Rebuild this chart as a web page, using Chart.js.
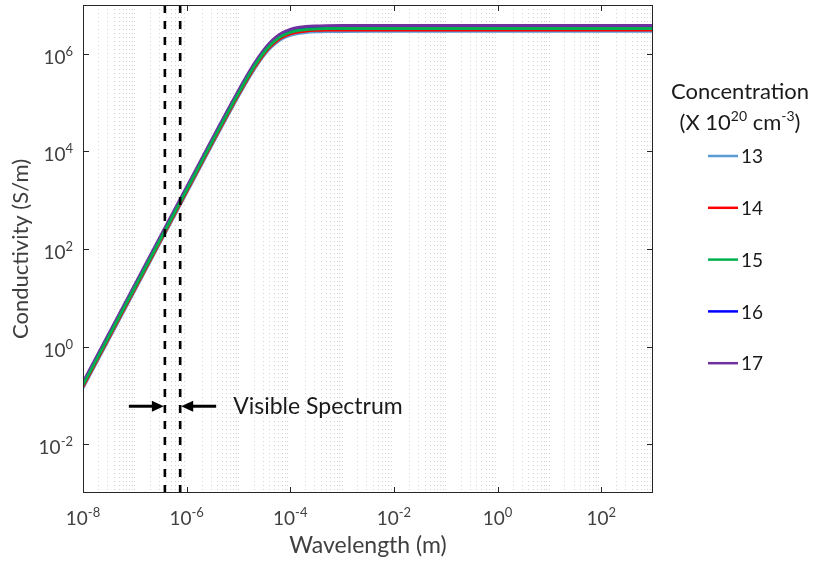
<!DOCTYPE html>
<html>
<head>
<meta charset="utf-8">
<script src="https://cdn.jsdelivr.net/npm/chart.js@4.4.1/dist/chart.umd.min.js"></script>
<style>
  body { margin: 0; background: #fff; }
  canvas { display: block; }
</style>
</head>
<body>
<canvas id="chart" width="815" height="562"></canvas>
<script>
const wavelength = [1e-8, 1e-7, 1e-6, 1e-5, 2e-5, 3e-5, 4e-5, 5e-5, 7e-5, 1e-4, 1.5e-4, 2e-4, 3e-4, 5e-4, 1e-3, 1e-2, 1e-1, 1, 10, 100, 1000];

// conductivity (S/m) per concentration (x 10^20 cm^-3)
const conc13 = [0.1413, 14.13, 1413, 1.346e5, 4.725e5, 8.82e5, 1.267e6, 1.588e6, 2.035e6, 2.395e6, 2.644e6, 2.745e6, 2.820e6, 2.860e6, 2.878e6, 2.884e6, 2.884e6, 2.884e6, 2.884e6, 2.884e6, 2.884e6];
const conc14 = [0.1513, 15.13, 1513, 1.441e5, 5.062e5, 9.45e5, 1.358e6, 1.701e6, 2.180e6, 2.566e6, 2.833e6, 2.940e6, 3.021e6, 3.064e6, 3.083e6, 3.089e6, 3.089e6, 3.089e6, 3.089e6, 3.089e6, 3.089e6];
const conc15 = [0.1622, 16.22, 1622, 1.545e5, 5.425e5, 1.013e6, 1.455e6, 1.823e6, 2.337e6, 2.750e6, 3.036e6, 3.151e6, 3.238e6, 3.284e6, 3.304e6, 3.311e6, 3.311e6, 3.311e6, 3.311e6, 3.311e6, 3.311e6];
const conc16 = [0.1739, 17.39, 1739, 1.656e5, 5.816e5, 1.086e6, 1.560e6, 1.954e6, 2.505e6, 2.948e6, 3.255e6, 3.378e6, 3.471e6, 3.520e6, 3.542e6, 3.549e6, 3.549e6, 3.549e6, 3.549e6, 3.549e6, 3.549e6];
const conc17 = [0.1862, 18.62, 1862, 1.774e5, 6.228e5, 1.163e6, 1.670e6, 2.093e6, 2.683e6, 3.157e6, 3.485e6, 3.617e6, 3.717e6, 3.770e6, 3.793e6, 3.801e6, 3.801e6, 3.801e6, 3.801e6, 3.801e6, 3.801e6];

const seriesLabels = ['13', '14', '15', '16', '17'];
const seriesColors = ['#5b9bd5', '#ff0000', '#00b050', '#0000ff', '#7030a0'];
const seriesOrder = [4, 3, 0, 2, 1]; // green on top, then purple

const xLabelTicks = [1e-8, 1e-6, 1e-4, 1e-2, 1, 1e2];
const yLabelTicks = [1e-2, 1, 1e2, 1e4, 1e6];
const visibleRange = [3.8e-7, 7.5e-7];
const arrowLevel = 0.06;

const X_MIN = 1e-8, X_MAX = 1e3, Y_MIN = 1e-3, Y_MAX = 1e7;
const FONT = 'Lato, "Open Sans", sans-serif';

// minor grid positions 1..9 x 10^n
const gridTicks = [];
for (let e = -8; e < 3; e++) {
  for (let k = 1; k <= 9; k++) gridTicks.push(+(k + 'e' + e));
}
gridTicks.push(X_MAX);

const isLabeled = v => xLabelTicks.some(t => Math.abs(Math.log10(t) - Math.log10(v)) < 1e-6);

const allSeries = [conc13, conc14, conc15, conc16, conc17];
const datasets = allSeries.map((vals, i) => ({
  label: seriesLabels[i],
  data: wavelength.map((w, j) => ({ x: w, y: vals[j] })),
  borderColor: seriesColors[i],
  borderWidth: 3,
  pointRadius: 0,
  cubicInterpolationMode: 'monotone',
  order: seriesOrder[i]
}));

visibleRange.forEach(w => {
  datasets.push({
    label: 'visible',
    data: [{ x: w, y: Y_MIN }, { x: w, y: Y_MAX }],
    borderColor: '#000',
    borderWidth: 2.6,
    borderDash: [8, 8],
    pointRadius: 0,
    order: -1
  });
});

function drawPow(ctx, base, exp, x, y, align, size, expSize, rise) {
  ctx.font = size + 'px ' + FONT;
  const wb = ctx.measureText(base).width;
  ctx.font = expSize + 'px ' + FONT;
  const we = ctx.measureText(exp).width;
  const total = wb + we;
  let start = x;
  if (align === 'center') start = x - total / 2;
  if (align === 'right') start = x - total;
  ctx.textAlign = 'left';
  ctx.textBaseline = 'alphabetic';
  ctx.font = size + 'px ' + FONT;
  ctx.fillText(base, start, y);
  ctx.font = expSize + 'px ' + FONT;
  ctx.fillText(exp, start + wb, y - rise);
  return total;
}

function arrow(ctx, x1, x2, y) {
  const dir = Math.sign(x2 - x1);
  ctx.beginPath();
  ctx.moveTo(x1, y);
  ctx.lineTo(x2 - dir * 8, y);
  ctx.lineWidth = 3;
  ctx.stroke();
  ctx.beginPath();
  ctx.moveTo(x2, y);
  ctx.lineTo(x2 - dir * 12, y - 5.5);
  ctx.lineTo(x2 - dir * 12, y + 5.5);
  ctx.closePath();
  ctx.fill();
}

const decorations = {
  id: 'decorations',
  afterDraw(chart) {
    const { ctx, chartArea: a, scales: { x, y } } = chart;
    ctx.save();

    // box and inner ticks
    ctx.strokeStyle = '#262626';
    ctx.lineWidth = 1;
    ctx.strokeRect(a.left + 0.5, a.top + 0.5, a.right - a.left - 1, a.bottom - a.top - 1);
    ctx.beginPath();
    xLabelTicks.forEach(v => {
      const px = Math.round(x.getPixelForValue(v)) + 0.5;
      ctx.moveTo(px, a.bottom); ctx.lineTo(px, a.bottom - 6);
      ctx.moveTo(px, a.top); ctx.lineTo(px, a.top + 6);
    });
    yLabelTicks.forEach(v => {
      const py = Math.round(y.getPixelForValue(v)) + 0.5;
      ctx.moveTo(a.left, py); ctx.lineTo(a.left + 6, py);
      ctx.moveTo(a.right, py); ctx.lineTo(a.right - 6, py);
    });
    ctx.stroke();

    // tick labels
    ctx.fillStyle = '#404040';
    xLabelTicks.forEach(v => {
      const px = x.getPixelForValue(v);
      drawPow(ctx, '10', String(Math.round(Math.log10(v))), px, a.bottom + 32, 'center', 19, 13, 8);
    });
    yLabelTicks.forEach(v => {
      const py = y.getPixelForValue(v);
      drawPow(ctx, '10', String(Math.round(Math.log10(v))), a.left - 10, py + 10, 'right', 19, 13, 8);
    });

    // axis titles
    ctx.textAlign = 'center';
    ctx.textBaseline = 'alphabetic';
    ctx.font = '23px ' + FONT;
    ctx.fillText('Wavelength (m)', (a.left + a.right) / 2, 553);
    ctx.save();
    ctx.font = '22px ' + FONT;
    ctx.translate(28, (a.top + a.bottom) / 2);
    ctx.rotate(-Math.PI / 2);
    ctx.fillText('Conductivity (S/m)', 0, 0);
    ctx.restore();

    // visible spectrum annotation
    const xl = x.getPixelForValue(visibleRange[0]);
    const xr = x.getPixelForValue(visibleRange[1]);
    const ya = y.getPixelForValue(arrowLevel);
    ctx.fillStyle = '#000';
    ctx.strokeStyle = '#000';
    arrow(ctx, xl - 36, xl - 1, ya);
    arrow(ctx, xr + 36, xr + 1, ya);
    ctx.fillStyle = '#1a1a1a';
    ctx.font = '23px ' + FONT;
    ctx.textAlign = 'left';
    ctx.fillText('Visible Spectrum', xr + 53, ya + 8);

    // legend
    const cx = 740;
    ctx.fillStyle = '#1a1a1a';
    ctx.font = '22px ' + FONT;
    ctx.textAlign = 'center';
    ctx.fillText('Concentration', cx, 99);
    const parts = [['(X 10', false], ['20', true], [' cm', false], ['-3', true], [')', false]];
    let tw = 0;
    parts.forEach(([t, sup]) => {
      ctx.font = (sup ? 14 : 22) + 'px ' + FONT;
      tw += ctx.measureText(t).width;
    });
    let tx = cx - tw / 2;
    ctx.textAlign = 'left';
    parts.forEach(([t, sup]) => {
      ctx.font = (sup ? 14 : 22) + 'px ' + FONT;
      ctx.fillText(t, tx, sup ? 121 : 130);
      tx += ctx.measureText(t).width;
    });
    ctx.font = '19px ' + FONT;
    ctx.textBaseline = 'middle';
    seriesLabels.forEach((lab, i) => {
      const ly = 156 + i * 51.8;
      ctx.strokeStyle = seriesColors[i];
      ctx.lineWidth = 2.5;
      ctx.beginPath();
      ctx.moveTo(708, ly); ctx.lineTo(738, ly);
      ctx.stroke();
      ctx.fillStyle = '#1a1a1a';
      ctx.fillText(lab, 741, ly + 1);
    });

    ctx.restore();
  }
};

new Chart(document.getElementById('chart'), {
  type: 'line',
  data: { datasets },
  options: {
    responsive: false,
    animation: false,
    layout: { padding: { left: 0, right: 162, top: 5, bottom: 0 } },
    plugins: { legend: { display: false }, tooltip: { enabled: false } },
    scales: {
      x: {
        type: 'logarithmic',
        min: X_MIN,
        max: X_MAX,
        afterBuildTicks: s => { s.ticks = gridTicks.map(v => ({ value: v })); },
        afterFit: s => { s.height = 69; },
        ticks: { display: false },
        grid: {
          drawTicks: false,
          color: c => (c.tick && (isLabeled(c.tick.value) || c.tick.value === X_MAX)) ? 'rgba(0,0,0,0)' : '#d4d4d4'
        },
        border: { display: false, dash: [1, 3] }
      },
      y: {
        type: 'logarithmic',
        min: Y_MIN,
        max: Y_MAX,
        afterFit: s => { s.width = 83; },
        ticks: { display: false },
        grid: { display: false },
        border: { display: false }
      }
    }
  },
  plugins: [decorations]
});
</script>
</body>
</html>
